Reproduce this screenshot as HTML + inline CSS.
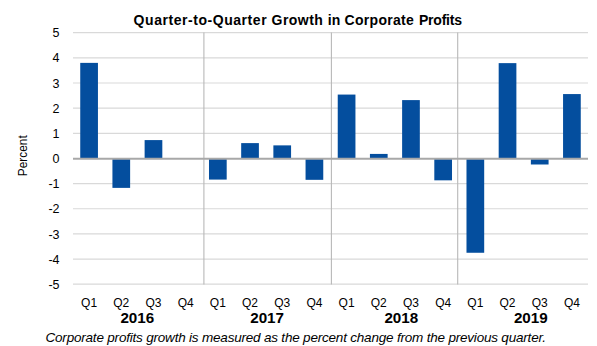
<!DOCTYPE html>
<html><head><meta charset="utf-8"><style>
html,body{margin:0;padding:0;background:#fff;}
body{width:597px;height:346px;overflow:hidden;position:relative;}
svg{position:absolute;left:0;top:0;}
</style></head><body>
<svg width="597" height="346" viewBox="0 0 597 346">
<g stroke="#d9d9d9" stroke-width="1.2">
<line x1="73" x2="588" y1="32.70" y2="32.70"/>
<line x1="73" x2="588" y1="57.85" y2="57.85"/>
<line x1="73" x2="588" y1="83.00" y2="83.00"/>
<line x1="73" x2="588" y1="108.15" y2="108.15"/>
<line x1="73" x2="588" y1="133.30" y2="133.30"/>
<line x1="73" x2="588" y1="183.60" y2="183.60"/>
<line x1="73" x2="588" y1="208.75" y2="208.75"/>
<line x1="73" x2="588" y1="233.90" y2="233.90"/>
<line x1="73" x2="588" y1="259.05" y2="259.05"/>
<line x1="73" x2="588" y1="284.20" y2="284.20"/>
</g>
<g stroke="#b8b8b8" stroke-width="1.1">
<line x1="203.9" x2="203.9" y1="32.5" y2="284.5"/>
<line x1="331.4" x2="331.4" y1="32.5" y2="284.5"/>
<line x1="457.7" x2="457.7" y1="32.5" y2="284.5"/>
</g>
<g fill="#044e9e">
<rect x="80.24" y="62.88" width="17.7" height="96.17"/>
<rect x="112.43" y="158.45" width="17.7" height="29.43"/>
<rect x="144.62" y="140.09" width="17.7" height="18.96"/>
<rect x="208.99" y="158.45" width="17.7" height="21.13"/>
<rect x="241.18" y="143.11" width="17.7" height="15.94"/>
<rect x="273.37" y="145.37" width="17.7" height="13.68"/>
<rect x="305.56" y="158.45" width="17.7" height="21.38"/>
<rect x="337.74" y="94.57" width="17.7" height="64.48"/>
<rect x="369.93" y="153.92" width="17.7" height="5.13"/>
<rect x="402.12" y="100.10" width="17.7" height="58.95"/>
<rect x="434.31" y="158.45" width="17.7" height="21.88"/>
<rect x="466.49" y="158.45" width="17.7" height="94.31"/>
<rect x="498.68" y="63.13" width="17.7" height="95.92"/>
<rect x="530.87" y="158.45" width="17.7" height="6.04"/>
<rect x="563.06" y="94.07" width="17.7" height="64.98"/>
</g>
<line x1="73" x2="588" y1="158.8" y2="158.8" stroke="#a8a8a8" stroke-width="2"/>
<g font-family="Liberation Sans" font-weight="bold" font-size="14" fill="#000">
<text x="133.6" y="24.6" textLength="133" lengthAdjust="spacing">Quarter-to-Quarter</text>
<text x="271.6" y="24.6" textLength="51.3" lengthAdjust="spacing">Growth</text>
<text x="327.8" y="24.6">in</text>
<text x="344.6" y="24.6" textLength="69.2" lengthAdjust="spacing">Corporate</text>
<text x="419" y="24.6" textLength="43" lengthAdjust="spacing">Profits</text>
</g>
<g font-family="Liberation Sans" font-size="12.5" fill="#000" text-anchor="end">
<text x="59.5" y="37.30">5</text>
<text x="59.5" y="62.45">4</text>
<text x="59.5" y="87.60">3</text>
<text x="59.5" y="112.75">2</text>
<text x="59.5" y="137.90">1</text>
<text x="59.5" y="163.05">0</text>
<text x="59.5" y="188.20">-1</text>
<text x="59.5" y="213.35">-2</text>
<text x="59.5" y="238.50">-3</text>
<text x="59.5" y="263.65">-4</text>
<text x="59.5" y="288.80">-5</text>
</g>
<text transform="translate(27,155.8) rotate(-90)" text-anchor="middle" font-family="Liberation Sans" font-size="11.9" fill="#000">Percent</text>
<g font-family="Liberation Sans" font-size="12" fill="#000" text-anchor="middle">
<text x="89.09" y="306.5">Q1</text>
<text x="121.28" y="306.5">Q2</text>
<text x="153.47" y="306.5">Q3</text>
<text x="185.66" y="306.5">Q4</text>
<text x="217.84" y="306.5">Q1</text>
<text x="250.03" y="306.5">Q2</text>
<text x="282.22" y="306.5">Q3</text>
<text x="314.41" y="306.5">Q4</text>
<text x="346.59" y="306.5">Q1</text>
<text x="378.78" y="306.5">Q2</text>
<text x="410.97" y="306.5">Q3</text>
<text x="443.16" y="306.5">Q4</text>
<text x="475.34" y="306.5">Q1</text>
<text x="507.53" y="306.5">Q2</text>
<text x="539.72" y="306.5">Q3</text>
<text x="571.91" y="306.5">Q4</text>
</g>
<g font-family="Liberation Sans" font-weight="bold" font-size="15.2" fill="#000" text-anchor="middle">
<text x="137.30" y="322.8">2016</text>
<text x="267.10" y="322.8">2017</text>
<text x="401.30" y="322.8">2018</text>
<text x="530.80" y="322.8">2019</text>
</g>
<text x="45.5" y="342.3" textLength="500.5" lengthAdjust="spacing" font-family="Liberation Sans" font-style="italic" font-size="13.5" fill="#000">Corporate profits growth is measured as the percent change from the previous quarter.</text>
</svg>
</body></html>
